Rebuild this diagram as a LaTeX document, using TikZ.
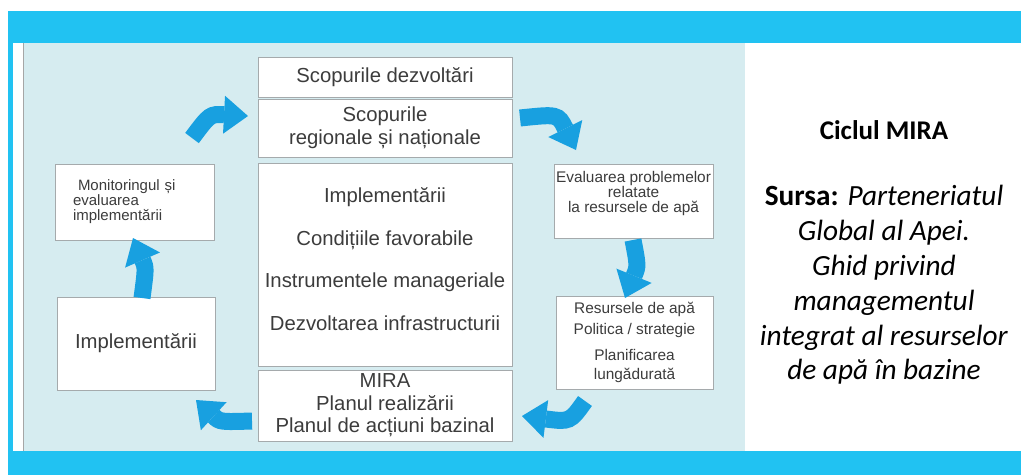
\documentclass[tikz,border=0pt]{standalone}
\usepackage{fontspec}
\setmainfont{Liberation Sans}
\newfontfamily\calib{Carlito}
\usetikzlibrary{arrows.meta}
\definecolor{barcyan}{RGB}{33,194,242}
\definecolor{panelblue}{RGB}{214,236,240}
\definecolor{arrblue}{RGB}{24,160,224}
\definecolor{txtgray}{RGB}{60,60,60}
\definecolor{bordgray}{RGB}{165,170,172}
\tikzset{
  box/.style={draw=bordgray, fill=white, line width=0.8pt, inner sep=0pt, text=txtgray, align=center},
  bigfont/.style={font=\fontsize{20.3}{22.5}\selectfont},
  plain/.style={inner sep=0pt, text=txtgray, align=center},
  barrow/.style={draw=arrblue, line width=17pt, -{Triangle[width=38pt,length=24pt,line width=0pt]}},
  sidetext/.style={inner sep=0pt, align=center, text=black}
}
\begin{document}
\begin{tikzpicture}[x=1pt,y=-1pt]
\useasboundingbox (0,0) rectangle (1021,475);
\fill[white] (0,0) rectangle (1021,475);
% frame
\fill[barcyan] (8,11) rectangle (1021,43);
\fill[barcyan] (8,451) rectangle (1021,475);
\fill[barcyan] (8,43) rectangle (13,451);
\fill[panelblue] (23,43) rectangle (745,451);
\draw[gray!70, line width=0.8pt] (23.5,43) -- (23.5,451);
% central column
\node[box, bigfont, minimum width=254pt, minimum height=40pt] (dev) at (385,77) {Scopurile dezvoltări};
\node[box, bigfont, minimum width=254pt, minimum height=58pt] (reg) at (385,128) {Scopurile\\regionale și naționale};
\node[box, minimum width=254pt, minimum height=203pt] (cond) at (385,264.5) {};
\node[plain, font=\fontsize{20.3}{42.5}\selectfont] (condtxt) at (385,259) {Implementării\\Condițiile favorabile\\Instrumentele manageriale\\Dezvoltarea infrastructurii};
\node[box, bigfont, minimum width=254pt, minimum height=71pt] (mira) at (385,405.5) {MIRA\\Planul realizării\\Planul de acțiuni bazinal};
% left column
\node[box, font=\fontsize{15}{15}\selectfont, align=left, text width=123pt, inner xsep=18pt, minimum height=76pt] (mon) at (134.5,202) {\ Monitoringul și\\evaluarea\\implementării};
\node[box, bigfont, minimum width=158pt, minimum height=93pt] (impl) at (136,343.5) {Implementării};
% right column
\node[box, minimum width=159pt, minimum height=74pt] (eval) at (633.5,201) {};
\node[plain, font=\fontsize{15.4}{15}\selectfont] (evaltxt) at (633.5,194) {Evaluarea problemelor\\relatate\\la resursele de apă};
\node[box, font=\fontsize{15.4}{19}\selectfont, minimum width=157pt, minimum height=93pt] (res) at (634.5,342.5) {Resursele de apă\\[2pt]Politica / strategie\\[7pt]Planificarea\\lungădurată};
% cycle arrows
\coordinate (a1s) at (192,138); \coordinate (a1e) at (248,116);
\coordinate (a2s) at (520,118); \coordinate (a2e) at (576,150);
\coordinate (a3s) at (633,240); \coordinate (a3e) at (625,298);
\coordinate (a4s) at (585,401); \coordinate (a4e) at (522,416);
\coordinate (a5s) at (252,421); \coordinate (a5e) at (196,400);
\coordinate (a6s) at (142,298); \coordinate (a6e) at (133,238);
\draw[barrow] (a1s) .. controls (210,114) .. (a1e);
\draw[barrow] (a2s) .. controls (558,114) .. (a2e);
\draw[barrow] (a3s) .. controls (638,266) .. (a3e);
\draw[barrow] (a4s) .. controls (570,422) .. (a4e);
\draw[barrow] (a5s) .. controls (220,422) .. (a5e);
\draw[barrow] (a6s) .. controls (146,268) .. (a6e);
% side text
\node[sidetext, font=\calib\bfseries\fontsize{27}{35}\selectfont] (title) at (884,130) {Ciclul MIRA};
\node[sidetext, font=\calib\fontsize{29.3}{34.8}\selectfont] (src) at (884,285) {\textbf{Sursa:} \textit{Parteneriatul}\\\textit{Global al Apei.}\\\textit{Ghid privind}\\\textit{managementul}\\\textit{integrat al resurselor}\\\textit{de apă în bazine}};
\end{tikzpicture}
\end{document}
